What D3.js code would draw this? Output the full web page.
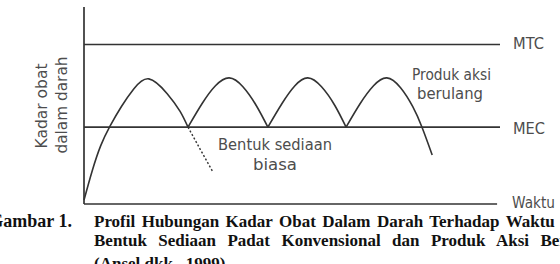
<!DOCTYPE html>
<html><head><meta charset="utf-8">
<script src="https://cdn.jsdelivr.net/npm/d3@7"></script>
<style>html,body{margin:0;padding:0;background:#fff;overflow:hidden}</style>
</head><body>
<svg id="c" width="560" height="264"></svg>
<script>
// ---- data (time units 0..100, concentration units 0..100) ----
const refNames = ["MTC", "MEC"];
const refValues = [81, 39];
const axisEndTime = 99.3;
const axisTopConc = 100;
// repeated-action product curve, one array per dose hump
const hump1 = [[0,2],[2,17],[4,29.5],[6.25,39.5],[9,49.5],[12,58.5],[15.6,63.5],[20.0,56],[23.1,47],[25.0,39]];
const hump2 = [[25.0,39],[28.4,51],[31.6,60],[34.9,64],[38.2,59.5],[41.4,50],[44.2,39]];
const hump3 = [[44.2,39],[47.6,51],[50.7,60],[53.8,64],[57.1,59.5],[60.3,50],[63.0,39]];
const hump4 = [[63.0,39],[66.4,51],[69.6,60],[72.8,64],[76.1,59],[79.0,49.5],[81.25,39],[83.7,24.9]];
// conventional dosage form decline (dotted)
const conventionalTail = [[25.0,39],[28.0,27.5],[31.0,16.2]];
const yLabelLines = ["Kadar obat", "dalam darah"];
const xLabel = "Waktu";
const annotRepeat = ["Produk aksi", "berulang"];
const annotConv = ["Bentuk sediaan", "biasa"];
const captionLabel = "Gambar 1.";
const captionLines = [
  "Profil Hubungan Kadar Obat Dalam Darah Terhadap Waktu",
  "Bentuk Sediaan Padat Konvensional dan Produk Aksi Berulang",
  "(Ansel dkk., 1999)"
];

const svg = d3.select("#c");
const x = d3.scaleLinear().domain([0, 100]).range([84, 500]);
const y = d3.scaleLinear().domain([0, 100]).range([204, 7]);
const ink = "#333";
const txt = "#4d4d4d";
const sans = "'DejaVu Sans', 'Noto Sans', sans-serif";

// axes
svg.append("line").attr("x1", x(0)).attr("x2", x(0)).attr("y1", y(0)).attr("y2", y(axisTopConc))
  .attr("stroke", ink).attr("stroke-width", 1.7);
svg.append("line").attr("x1", x(0)).attr("x2", x(axisEndTime)).attr("y1", y(0)).attr("y2", y(0))
  .attr("stroke", ink).attr("stroke-width", 1.7);

// reference lines
svg.selectAll("line.ref").data(refValues).join("line").attr("class", "ref")
  .attr("x1", x(0)).attr("x2", x(100)).attr("y1", d => y(d)).attr("y2", d => y(d))
  .attr("stroke", ink).attr("stroke-width", 1.6);

// curves
const line = d3.line().x(d => x(d[0])).y(d => y(d[1])).curve(d3.curveNatural);
svg.selectAll("path.hump").data([hump1, hump2, hump3, hump4]).join("path").attr("class", "hump")
  .attr("d", line).attr("fill", "none").attr("stroke", ink).attr("stroke-width", 1.6);
svg.append("path").attr("d", d3.line().x(d => x(d[0])).y(d => y(d[1])).curve(d3.curveLinear)(conventionalTail))
  .attr("fill", "none").attr("stroke", ink).attr("stroke-width", 1.4).attr("stroke-dasharray", "2,2");

function label(t, px, py, w, opts = {}) {
  const el = svg.append("text").text(t).attr("x", px).attr("y", py)
    .attr("font-family", sans).attr("font-size", opts.size || 15).attr("fill", txt);
  if (w) el.attr("textLength", w).attr("lengthAdjust", "spacingAndGlyphs");
  if (opts.transform) el.attr("transform", opts.transform);
  if (opts.anchor) el.attr("text-anchor", opts.anchor);
  return el;
}
// right labels
label(refNames[0], 513, y(refValues[0]) + 5, 31);
label(refNames[1], 513, y(refValues[1]) + 6.5, 32);
label(xLabel, 512, 208, 43);
// annotations
label(annotRepeat[0], 412, 80, 79);
label(annotRepeat[1], 417, 99, 66);
label(annotConv[0], 218, 150, 114);
label(annotConv[1], 253, 169.5, 44);
// y label (rotated)
label(yLabelLines[0], 0, 0, 85, {transform: "translate(47,106) rotate(-90)", anchor: "middle"});
label(yLabelLines[1], 0, 0, 97, {transform: "translate(67,105) rotate(-90)", anchor: "middle"});

// caption
const serif = "'Liberation Serif', 'Times New Roman', serif";
const capSize = 17;
svg.append("text").text(captionLabel).attr("x", 72).attr("y", 227).attr("text-anchor", "end")
  .attr("font-family", serif).attr("font-weight", "bold").attr("font-size", capSize + 1).attr("fill", "#111");
function capLine(t, py, target, nSpacesFit, fitText) {
  const el = svg.append("text").text(t).attr("x", 94).attr("y", py)
    .attr("font-family", serif).attr("font-weight", "bold").attr("font-size", capSize).attr("fill", "#111");
  if (target) {
    const probe = svg.append("text").text(fitText || t).attr("font-family", serif)
      .attr("font-weight", "bold").attr("font-size", capSize);
    const natural = probe.node().getComputedTextLength();
    probe.remove();
    el.attr("word-spacing", (target - natural) / nSpacesFit);
  }
  return el;
}
capLine(captionLines[0], 227, 463, 8);
capLine(captionLines[1], 246, 435, 6, "Bentuk Sediaan Padat Konvensional dan Produk Aksi");
capLine(captionLines[2], 269);
</script>
</body></html>
